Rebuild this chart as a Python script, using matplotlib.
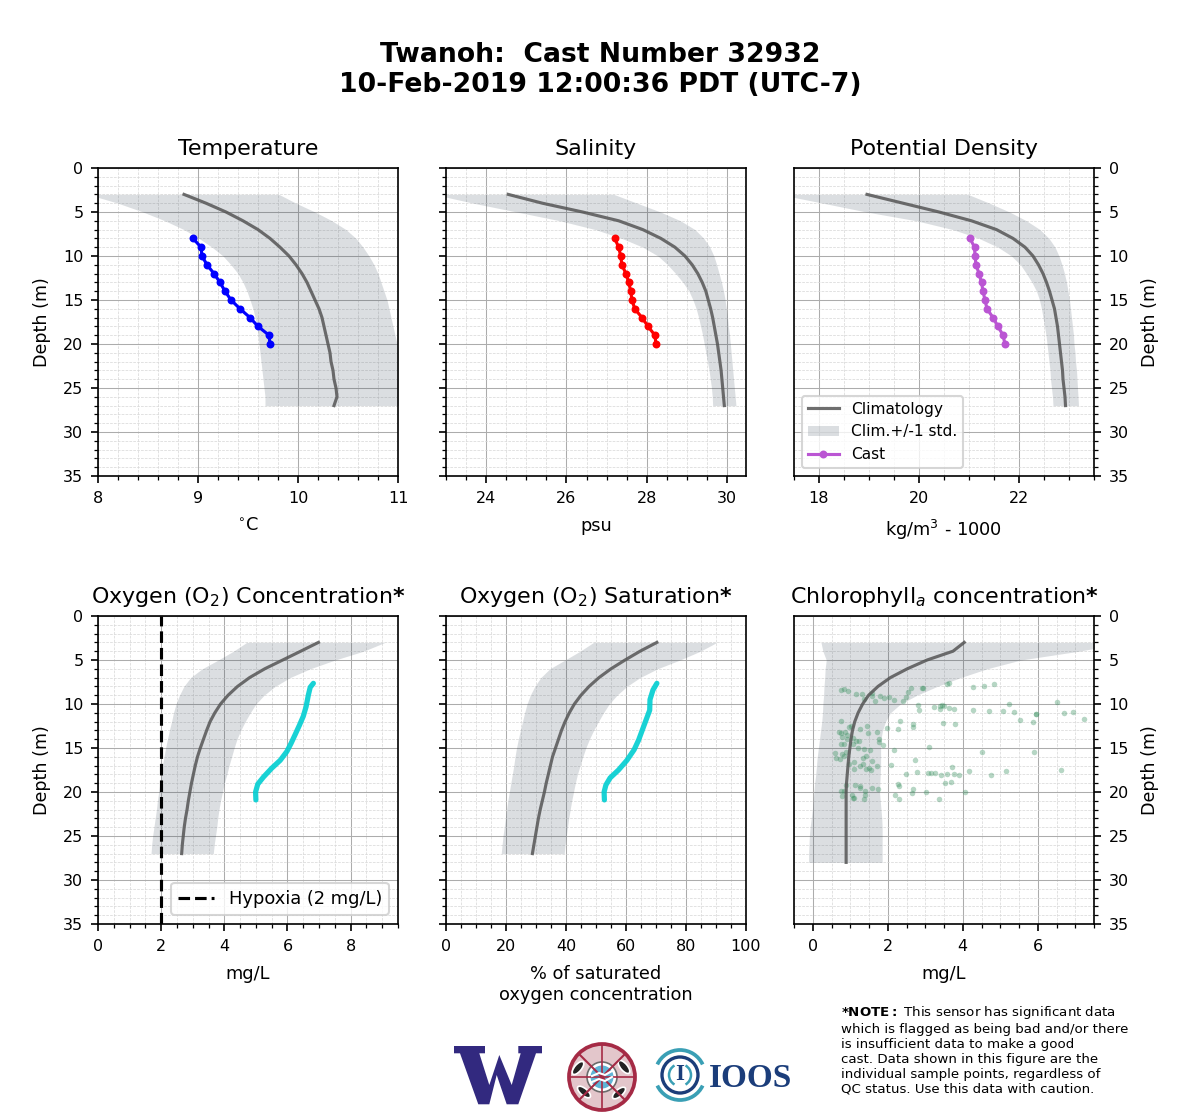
import numpy as np
import matplotlib
matplotlib.use('Agg')
import matplotlib.pyplot as plt
from matplotlib.patches import Circle, Arc, Ellipse, Polygon
from matplotlib.ticker import MultipleLocator

# глибини кліматології
depth_clim = list(range(3, 28))
depth_cast = [8, 9, 10, 11, 12, 13, 14, 15, 16, 17, 18, 19, 20]

temp_clim = [8.86, 9.08, 9.28, 9.45, 9.60, 9.72, 9.82, 9.91, 9.98, 10.04, 10.09, 10.13, 10.17, 10.21, 10.24, 10.26, 10.28, 10.30, 10.32, 10.33, 10.35, 10.36, 10.38, 10.39, 10.36]
temp_low = [7.90, 8.20, 8.45, 8.67, 8.86, 9.01, 9.14, 9.25, 9.33, 9.40, 9.45, 9.49, 9.52, 9.55, 9.57, 9.59, 9.60, 9.61, 9.62, 9.63, 9.64, 9.65, 9.66, 9.67, 9.67]
temp_high = [9.81, 9.98, 10.17, 10.34, 10.48, 10.58, 10.65, 10.71, 10.76, 10.80, 10.83, 10.86, 10.89, 10.91, 10.93, 10.95, 10.97, 10.99, 11.01, 11.03, 11.05, 11.06, 11.08, 11.10, 11.11]
temp_cast = [8.95, 9.03, 9.04, 9.09, 9.16, 9.22, 9.27, 9.33, 9.42, 9.52, 9.60, 9.71, 9.72]

sal_clim = [24.55, 25.40, 26.40, 27.30, 27.90, 28.35, 28.70, 28.95, 29.13, 29.27, 29.38, 29.47, 29.53, 29.59, 29.64, 29.68, 29.72, 29.76, 29.79, 29.82, 29.85, 29.87, 29.89, 29.91, 29.93]
sal_low = [22.70, 23.68, 24.76, 25.84, 26.72, 27.38, 27.90, 28.28, 28.52, 28.72, 28.90, 29.05, 29.15, 29.23, 29.29, 29.34, 29.39, 29.43, 29.47, 29.51, 29.55, 29.58, 29.61, 29.63, 29.64]
sal_high = [27.18, 27.76, 28.34, 28.84, 29.20, 29.42, 29.57, 29.67, 29.74, 29.80, 29.86, 29.91, 29.95, 29.98, 30.01, 30.03, 30.06, 30.08, 30.10, 30.12, 30.14, 30.16, 30.18, 30.20, 30.22]
sal_cast = [27.20, 27.30, 27.35, 27.38, 27.48, 27.55, 27.60, 27.63, 27.70, 27.88, 28.03, 28.20, 28.23]

dens_clim = [18.96, 19.68, 20.40, 21.05, 21.55, 21.88, 22.12, 22.28, 22.39, 22.48, 22.55, 22.61, 22.66, 22.71, 22.74, 22.77, 22.79, 22.81, 22.83, 22.85, 22.87, 22.88, 22.90, 22.92, 22.93]
dens_low = [17.20, 18.08, 18.95, 19.95, 20.68, 21.20, 21.58, 21.85, 22.03, 22.15, 22.26, 22.35, 22.41, 22.45, 22.48, 22.51, 22.54, 22.56, 22.58, 22.60, 22.62, 22.63, 22.65, 22.67, 22.68]
dens_high = [20.98, 21.41, 21.81, 22.15, 22.42, 22.60, 22.72, 22.80, 22.86, 22.91, 22.95, 22.98, 23.01, 23.03, 23.05, 23.07, 23.09, 23.10, 23.12, 23.13, 23.15, 23.16, 23.17, 23.18, 23.19]
dens_cast = [21.02, 21.11, 21.12, 21.14, 21.20, 21.25, 21.28, 21.32, 21.36, 21.48, 21.58, 21.68, 21.72]

oxy_clim = [6.98, 6.42, 5.85, 5.28, 4.80, 4.42, 4.12, 3.88, 3.70, 3.55, 3.44, 3.34, 3.24, 3.15, 3.08, 3.02, 2.96, 2.91, 2.86, 2.82, 2.77, 2.73, 2.70, 2.67, 2.65]
oxy_low = [4.71, 4.29, 3.81, 3.30, 2.93, 2.72, 2.58, 2.47, 2.39, 2.33, 2.26, 2.20, 2.14, 2.09, 2.04, 2.00, 1.96, 1.92, 1.88, 1.85, 1.81, 1.77, 1.73, 1.70, 1.68]
oxy_high = [9.09, 8.41, 7.51, 6.72, 6.08, 5.61, 5.26, 5.00, 4.82, 4.66, 4.52, 4.40, 4.31, 4.23, 4.15, 4.08, 4.00, 3.94, 3.88, 3.83, 3.79, 3.76, 3.72, 3.68, 3.65]
oxy_cast_depth = [7.65, 8.1, 9.0, 10.3, 11.4, 12.4, 13.5, 14.5, 15.4, 16.4, 17.3, 18.3, 19.1, 20.0, 20.9]
oxy_cast = [6.82, 6.72, 6.66, 6.59, 6.50, 6.38, 6.24, 6.11, 5.98, 5.77, 5.50, 5.24, 5.06, 4.99, 5.00]

sat_clim = [70.3, 64.7, 59.7, 55.0, 51.0, 47.7, 45.0, 42.8, 41.1, 39.7, 38.5, 37.5, 36.5, 35.5, 34.8, 34.1, 33.4, 32.8, 32.1, 31.4, 30.8, 30.3, 29.8, 29.3, 28.8]
sat_low = [49.2, 44.7, 39.7, 34.6, 31.6, 29.6, 28.1, 27.0, 26.2, 25.5, 24.8, 24.1, 23.5, 23.0, 22.6, 22.1, 21.6, 21.1, 20.6, 20.2, 19.8, 19.4, 19.0, 18.7, 18.4]
sat_high = [90.3, 84.8, 78.0, 70.5, 64.7, 60.3, 57.0, 54.4, 52.5, 50.8, 49.2, 47.8, 46.6, 45.6, 44.7, 43.8, 43.1, 42.5, 41.9, 41.4, 40.9, 40.5, 40.1, 39.7, 39.4]
sat_cast_depth = [7.65, 8.4, 9.5, 10.7, 11.8, 12.9, 14.1, 15.2, 16.4, 17.5, 18.4, 19.2, 20.0, 20.9]
sat_cast = [70.3, 69.0, 68.0, 67.9, 66.7, 65.5, 64.2, 62.7, 60.3, 57.5, 54.7, 53.3, 52.7, 52.8]

chl_depth = list(range(3, 29))
chl_clim = [4.04, 3.74, 3.05, 2.52, 2.07, 1.74, 1.49, 1.33, 1.21, 1.12, 1.06, 1.02, 0.99, 0.96, 0.94, 0.92, 0.90, 0.89, 0.89, 0.89, 0.89, 0.89, 0.89, 0.89, 0.89, 0.89]
chl_low = [0.22, 0.27, 0.36, 0.33, 0.32, 0.30, 0.29, 0.27, 0.26, 0.24, 0.21, 0.18, 0.15, 0.12, 0.10, 0.08, 0.05, 0.03, 0.01, -0.01, -0.04, -0.07, -0.09, -0.10, -0.11, -0.11]
chl_high = [8.40, 7.10, 5.55, 4.65, 3.94, 3.32, 2.78, 2.34, 2.07, 1.94, 1.86, 1.82, 1.81, 1.81, 1.81, 1.80, 1.79, 1.78, 1.80, 1.82, 1.84, 1.85, 1.85, 1.85, 1.85, 1.85]

chl_x = [0.76, 0.84, 0.93, 1.14, 1.32, 1.58, 1.58, 1.36, 1.67, 1.79, 1.91, 2.04, 2.16, 2.40, 2.48, 2.53, 2.62, 2.92, 2.94, 3.58, 3.62, 4.27, 4.56, 4.83,
         2.80, 2.83, 3.23, 3.39, 3.39, 3.45, 3.51, 3.63, 3.76, 4.27, 4.69, 5.07, 5.36, 5.23, 5.96, 5.96, 5.52, 5.87, 6.52, 6.69, 6.93, 7.23,
         2.32, 2.67, 2.67, 2.27, 1.97, 3.47, 3.79,
         0.76, 1.02, 0.96, 1.45, 1.25, 1.47, 1.72, 0.69, 0.74, 0.78, 0.87, 0.92, 0.90, 1.08, 1.14, 1.24, 1.76, 1.77, 1.88, 0.74, 0.83, 1.08, 1.20, 1.36, 1.52,
         0.59, 0.78, 0.83, 0.72, 0.63, 0.89, 1.43, 1.34, 1.11, 0.96, 1.27, 1.34, 1.58, 1.71, 1.11, 1.43, 1.49, 1.56, 2.16, 3.09, 4.51, 5.89, 2.72, 2.08, 3.71, 6.61,
         2.48, 2.77, 3.07, 3.16, 3.25, 3.41, 3.57, 3.76, 3.90, 4.16, 4.75, 5.15, 3.68, 3.52, 2.27, 2.29, 2.67, 2.64, 3.01, 4.05, 2.19, 2.29, 3.36,
         0.89, 1.12, 1.25, 1.25, 1.58, 1.73, 1.40, 0.76, 0.84, 0.79, 1.05, 1.08, 1.11, 1.38, 1.36]
chl_y = [8.45, 8.33, 8.56, 8.83, 8.90, 8.75, 9.09, 9.47, 9.66, 9.05, 9.28, 9.17, 9.58, 9.70, 9.24, 8.67, 8.22, 8.18, 8.18, 7.69, 7.65, 8.10, 8.00, 7.76,
         10.08, 10.72, 10.38, 10.23, 10.61, 10.08, 10.19, 10.45, 10.61, 10.72, 10.83, 10.83, 10.95, 9.96, 11.14, 11.17, 11.86, 12.08, 9.81, 11.06, 10.95, 11.74,
         11.97, 12.27, 12.65, 12.88, 12.77, 12.20, 12.31,
         11.97, 12.50, 12.65, 12.54, 12.88, 13.33, 13.22, 13.14, 13.33, 13.71, 13.14, 13.52, 14.00, 13.90, 14.17, 14.17, 14.00, 14.32, 14.70, 14.58, 14.58, 14.55, 15.04, 15.08, 15.27,
         15.60, 15.72, 15.91, 16.21, 16.17, 15.42, 15.95, 16.10, 16.63, 16.86, 17.00, 16.80, 16.51, 17.08, 17.35, 17.39, 17.23, 17.53, 15.27, 14.92, 15.49, 15.49, 16.40, 16.97, 17.16, 17.54,
         17.92, 17.77, 17.80, 17.88, 17.88, 18.07, 18.00, 18.00, 18.07, 17.65, 18.11, 17.65, 18.90, 19.00, 19.05, 19.36, 19.62, 20.15, 20.04, 20.04, 20.38, 20.83, 20.83,
         19.17, 19.24, 19.28, 19.58, 19.50, 19.70, 19.92, 19.92, 19.85, 20.49, 20.34, 20.68, 20.72, 20.34, 20.76]

note_text = (r'$\bf{*NOTE:}$ This sensor has significant data' '\n'
             'which is flagged as being bad and/or there\n'
             'is insufficient data to make a good\n'
             'cast. Data shown in this figure are the\n'
             'individual sample points, regardless of\n'
             'QC status. Use this data with caution.')

W, H = 1200, 1120
band_color = '#2c3e50'
clim_color = '#555555'

plt.rcParams['font.size'] = 7.7


def panel(x0, y0, title, xlabel, xlim, major, minor, side='none'):
    ax = fig.add_axes([x0 / W, 1 - (y0 + 308) / H, 300 / W, 308 / H])
    ax.set_xlim(*xlim)
    ax.set_ylim(35, 0)
    ax.xaxis.set_major_locator(MultipleLocator(major))
    ax.xaxis.set_minor_locator(MultipleLocator(minor))
    ax.yaxis.set_major_locator(MultipleLocator(5))
    ax.yaxis.set_minor_locator(MultipleLocator(1))
    ax.grid(True, which='major', color='#acacac', lw=0.5)
    ax.grid(True, which='minor', color='#d8d8d8', lw=0.35, ls='--')
    ax.set_axisbelow(True)
    ax.set_title(title, fontsize=10.6, pad=6.4)
    ax.set_xlabel(xlabel, fontsize=8.5, labelpad=5.7)
    if side == 'left':
        ax.set_ylabel('Depth (m)', fontsize=8.4, labelpad=5.8)
    elif side == 'right':
        ax.yaxis.tick_right()
        ax.yaxis.set_label_position('right')
        ax.set_ylabel('Depth (m)', fontsize=8.4, labelpad=6)
    else:
        ax.tick_params(axis='y', which='both', labelleft=False)
    return ax


def clim(ax, depth, low, high, mean):
    ax.fill_betweenx(depth, low, high, color=band_color, alpha=0.17, lw=0, label='Clim.+/-1 std.')
    ax.plot(mean, depth, color=clim_color, lw=1.5, alpha=0.85, label='Climatology')


fig = plt.figure(figsize=(W / 150, H / 150), dpi=150)
fig.text(0.5, 1 - 69.5 / H, 'Twanoh:  Cast Number 32932\n10-Feb-2019 12:00:36 PDT (UTC-7)',
         ha='center', va='center', fontsize=12.8, fontweight='bold')

ax1 = panel(98, 168, 'Temperature', r'$^{\circ}$C', (8, 11), 1, 0.2, 'left')
clim(ax1, depth_clim, temp_low, temp_high, temp_clim)
ax1.plot(temp_cast, depth_cast, '-o', color='blue', lw=1.5, ms=2.8)

ax2 = panel(446, 168, 'Salinity', 'psu', (23, 30.47), 2, 0.5)
clim(ax2, depth_clim, sal_low, sal_high, sal_clim)
ax2.plot(sal_cast, depth_cast, '-o', color='red', lw=1.5, ms=2.8)

ax3 = panel(794, 168, 'Potential Density', r'kg/m$^3$ - 1000', (17.5, 23.5), 2, 0.5, 'right')
clim(ax3, depth_clim, dens_low, dens_high, dens_clim)
ax3.plot(dens_cast, depth_cast, '-o', color='mediumorchid', lw=1.5, ms=2.8, label='Cast')
handles, labels = ax3.get_legend_handles_labels()
order = [labels.index(n) for n in ['Climatology', 'Clim.+/-1 std.', 'Cast']]
ax3.legend([handles[i] for i in order], [labels[i] for i in order], loc='lower left',
           fontsize=7.4, borderaxespad=0.5)

ax4 = panel(98, 616, r'Oxygen (O$_2$) Concentration$\bf{*}$', 'mg/L', (0, 9.5), 2, 0.5, 'left')
clim(ax4, depth_clim, oxy_low, oxy_high, oxy_clim)
ax4.plot(oxy_cast, oxy_cast_depth, color='darkturquoise', lw=2.5, alpha=0.9, solid_capstyle='round')
hyp = ax4.axvline(2, color='black', ls='--', lw=1.5)
ax4.legend([hyp], ['Hypoxia (2 mg/L)'], loc='lower right', fontsize=8.6, borderaxespad=0.5)

ax5 = panel(446, 616, r'Oxygen (O$_2$) Saturation$\bf{*}$', '% of saturated\noxygen concentration', (0, 100), 20, 5)
clim(ax5, depth_clim, sat_low, sat_high, sat_clim)
ax5.plot(sat_cast, sat_cast_depth, color='darkturquoise', lw=2.5, alpha=0.9, solid_capstyle='round')

ax6 = panel(794, 616, r'Chlorophyll$_a$ concentration$\bf{*}$', 'mg/L', (-0.5, 7.5), 2, 0.5, 'right')
clim(ax6, chl_depth, chl_low, chl_high, chl_clim)
ax6.scatter(chl_x, chl_y, s=7, color='seagreen', alpha=0.35, lw=0)

fig.text(841 / W, 1 - 1050 / H, note_text, fontsize=6.4, va='center', ha='left')

# логотипи
logo = fig.add_axes([0, 0, 1, 1], facecolor='none')
logo.set_xlim(0, W)
logo.set_ylim(H, 0)
logo.axis('off')
logo.add_patch(Polygon([(454, 1046), (485, 1046), (485, 1053.3), (479.3, 1053.3), (489.3, 1085), (499.3, 1055),
                        (511.7, 1085), (520.7, 1053.3), (518.3, 1053.3), (518.3, 1046), (542, 1046), (542, 1053.3),
                        (536, 1053.3), (518.3, 1104.3), (506.7, 1104.3), (496.7, 1075), (489.3, 1104.3),
                        (478.3, 1104.3), (460, 1053.3), (454, 1053.3)], fc='#32297f', lw=0))
logo.add_patch(Circle((602, 1077), 33, fc='#e3c6cb', ec='#a52a45', lw=1.8))
for a in [45, 135]:
    dx = 33 * np.cos(np.radians(a))
    dy = 33 * np.sin(np.radians(a))
    logo.plot([602 - dx, 602 + dx], [1077 - dy, 1077 + dy], color='#a52a45', lw=1)
logo.plot([602, 602], [1044, 1110], color='#a52a45', lw=0.8)
logo.plot([569, 635], [1077, 1077], color='#a52a45', lw=0.8)
for dx, dy, ang in [(-24, -9, -50), (22, -10, 50), (-18, 15, 40), (17, 16, -40)]:
    logo.add_patch(Ellipse((602 + dx, 1077 + dy), 16, 7, angle=ang, fc='#222222', ec='white', lw=0.8))
logo.add_patch(Circle((602, 1077), 15, fc='white', ec='#6b6b6b', lw=0.8))
logo.add_patch(Circle((602, 1077), 11.5, fc='#5fb4d6', lw=0))
logo.plot([592, 599, 605, 612], [1076, 1073, 1075, 1071], color='white', lw=1)
logo.plot([592, 599, 605, 612], [1082, 1079, 1081, 1077], color='white', lw=1)
logo.add_patch(Circle((680, 1075), 18, fc='none', ec='#1b3d7a', lw=1.6))
logo.add_patch(Arc((680, 1075), 50, 50, theta1=205, theta2=335, color='#3a9fb5', lw=1.8))
logo.add_patch(Arc((680, 1075), 50, 50, theta1=25, theta2=155, color='#3a9fb5', lw=1.8))
logo.add_patch(Arc((680, 1075), 22, 22, theta1=120, theta2=240, color='#3a9fb5', lw=1.2))
logo.add_patch(Arc((680, 1075), 22, 22, theta1=-60, theta2=60, color='#3a9fb5', lw=1.2))
logo.text(680, 1075, 'I', family='Liberation Serif', fontweight='bold', fontsize=11,
          color='#1b3d7a', ha='center', va='center')
logo.text(751, 1087, 'IOOS', family='Liberation Serif', fontweight='bold', fontsize=16,
          color='#1b3d7a', ha='center', va='baseline')

plt.savefig('out.png', dpi=150)
